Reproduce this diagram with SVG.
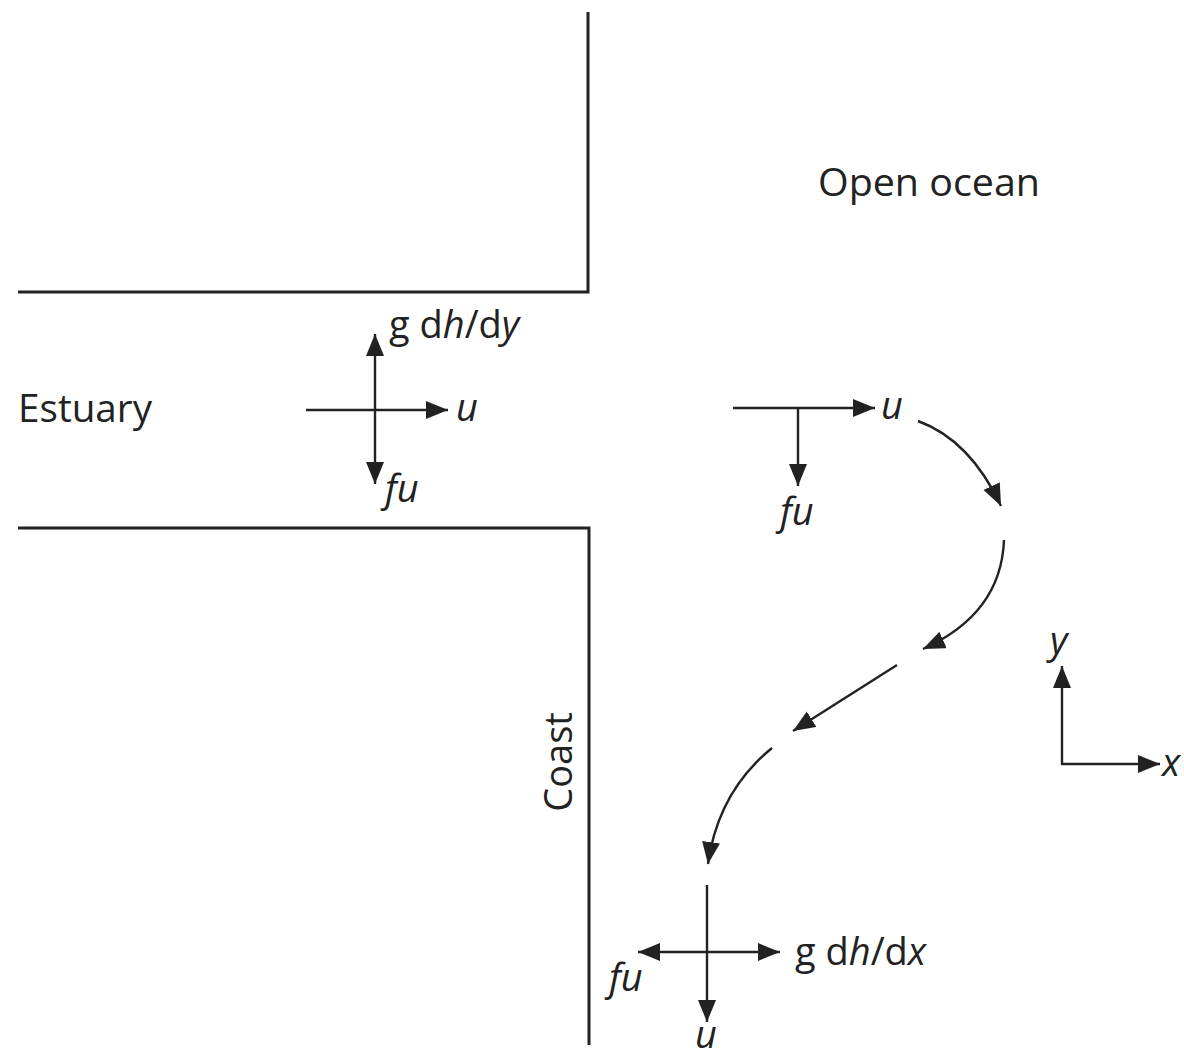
<svg xmlns="http://www.w3.org/2000/svg" width="1184" height="1059" viewBox="0 0 1184 1059">
<style>
.wall{fill:none;stroke:#222;stroke-width:3}
.ln{fill:none;stroke:#222;stroke-width:2.4}
.t{font-family:"Open Sans","Noto Sans",sans-serif;font-size:38px;fill:#222}
.i{font-style:italic}
</style>
<defs>
<marker id="ah" markerUnits="userSpaceOnUse" markerWidth="24" markerHeight="20" refX="22" refY="9" orient="auto">
<path d="M0,0 L22,9 L0,18 Z" fill="#222"/>
</marker>
</defs>
<rect width="1184" height="1059" fill="#fff"/>
<g id="walls">
<path class="wall" d="M18,292 H588 V12"/>
<path class="wall" d="M18,528 H589 V1045"/>
</g>
<g id="labels">
<text class="t" x="18" y="422" textLength="134" lengthAdjust="spacingAndGlyphs">Estuary</text>
<text class="t" x="818" y="196" textLength="222" lengthAdjust="spacingAndGlyphs">Open ocean</text>
<text class="t" transform="translate(572,762) rotate(-90)" text-anchor="middle">Coast</text>
</g>
<g id="connectors">
<line class="ln" x1="306" y1="410" x2="448" y2="410" marker-end="url(#ah)"/>
<line class="ln" x1="375" y1="410" x2="375" y2="334" marker-end="url(#ah)"/>
<line class="ln" x1="375" y1="410" x2="375" y2="484" marker-end="url(#ah)"/>
<line class="ln" x1="733" y1="408" x2="875" y2="408" marker-end="url(#ah)"/>
<line class="ln" x1="798" y1="408" x2="798" y2="486" marker-end="url(#ah)"/>
<path class="ln" d="M918,421 Q970,440 1001,506" marker-end="url(#ah)"/>
<path class="ln" d="M1004,540 C1002,592 972,627 923,649" marker-end="url(#ah)"/>
<line class="ln" x1="897" y1="665" x2="793" y2="731" marker-end="url(#ah)"/>
<path class="ln" d="M772,748 Q718,792 708,864" marker-end="url(#ah)"/>
<line class="ln" x1="707" y1="885" x2="707" y2="1022" marker-end="url(#ah)"/>
<line class="ln" x1="707" y1="952" x2="638" y2="952" marker-end="url(#ah)"/>
<line class="ln" x1="707" y1="952" x2="780" y2="952" marker-end="url(#ah)"/>
<line class="ln" x1="1062" y1="764" x2="1062" y2="666" marker-end="url(#ah)"/>
<line class="ln" x1="1061" y1="764" x2="1160" y2="764" marker-end="url(#ah)"/>
</g>
<g id="forces">
<text class="t" x="389" y="338">g d<tspan class="i">h</tspan>/d<tspan class="i">y</tspan></text>
<text class="t i" x="456" y="421">u</text>
<text class="t i" x="385" y="502">fu</text>
<text class="t i" x="881" y="419">u</text>
<text class="t i" x="780" y="525">fu</text>
<text class="t" x="795" y="965">g d<tspan class="i">h</tspan>/d<tspan class="i">x</tspan></text>
<text class="t i" x="609" y="991">fu</text>
<text class="t i" x="695" y="1048">u</text>
<text class="t i" x="1050" y="654">y</text>
<text class="t i" x="1162" y="776">x</text>
</g>
</svg>
